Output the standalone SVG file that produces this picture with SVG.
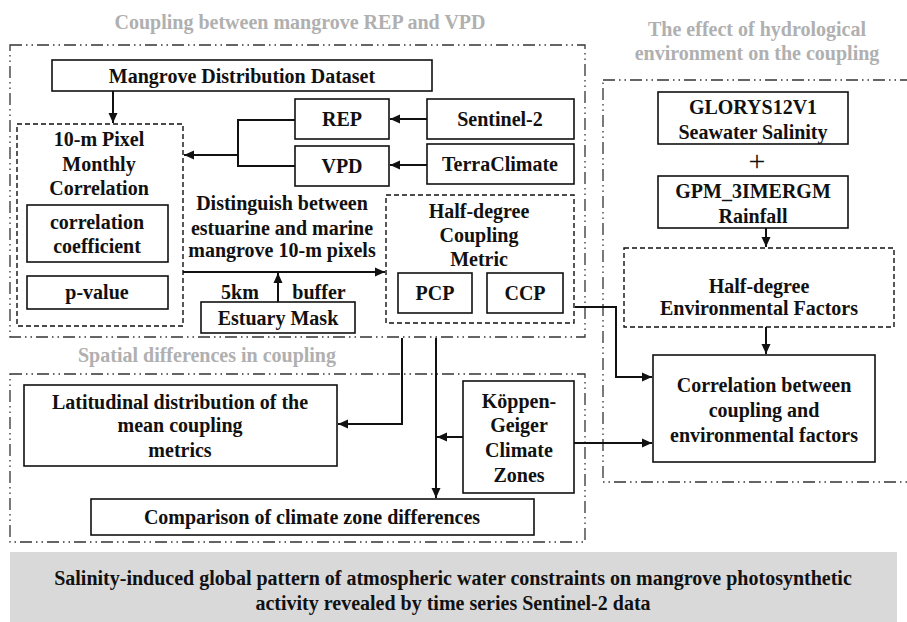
<svg xmlns="http://www.w3.org/2000/svg" width="907" height="622" viewBox="0 0 907 622">
<style>
text{font-family:"Liberation Serif","Times New Roman",serif;font-weight:bold;font-size:20px;text-anchor:middle;fill:#111}
.t{fill:#b0b0b0}
.b{fill:#fff;stroke:#111;stroke-width:1.6}
.d{fill:#fff;stroke:#111;stroke-width:1.4;stroke-dasharray:5 3}
.g{fill:none;stroke:#333;stroke-width:1.3;stroke-dasharray:12 4 1.5 4 1.5 4}
.c{fill:none;stroke:#111;stroke-width:2}
.a{marker-end:url(#ar)}
</style>
<defs>
<marker id="ar" markerUnits="userSpaceOnUse" markerWidth="12" markerHeight="10" refX="10" refY="5" orient="auto">
<path d="M0,0.5 L10,5 L0,9.5 Z" fill="#111"/>
</marker>
</defs>
<rect width="907" height="622" fill="#fff"/>

<g id="group-coupling">
<rect class="g" x="10" y="45" width="575" height="292"/>
<text class="t" x="300" y="29">Coupling between mangrove REP and VPD</text>
</g>
<g id="group-spatial">
<rect class="g" x="10" y="374" width="575" height="168"/>
<text class="t" x="207" y="362">Spatial differences in coupling</text>
</g>
<g id="group-hydro">
<rect class="g" x="603" y="80" width="310" height="402"/>
<text class="t" x="757" y="36">The effect of hydrological</text>
<text class="t" x="757" y="60">environment on the coupling</text>
</g>

<g id="connectors">
<path class="c a" d="M113,91 V123"/>
<path class="c a" d="M427,119 H390"/>
<path class="c a" d="M427,165 H390"/>
<path class="c" d="M295,120 H238 V166 H295"/>
<path class="c a" d="M238,155 H184"/>
<path class="c a" d="M183,272 H385"/>
<path class="c a" d="M278,302 V273"/>
<path class="c a" d="M575,307 H616 V377 H652"/>
<path class="c a" d="M402,338 V424 H338"/>
<path class="c a" d="M436,338 V498"/>
<path class="c a" d="M463,437 H437"/>
<path class="c a" d="M574,443 H652"/>
<path class="c a" d="M766,228 V247"/>
<path class="c a" d="M766,327 V354"/>
</g>

<g id="mangrove-dataset">
<rect class="b" x="52" y="60" width="380" height="31"/>
<text x="242" y="83">Mangrove Distribution Dataset</text>
</g>
<g id="rep">
<rect class="b" x="295" y="99" width="94" height="40"/>
<text x="342" y="126">REP</text>
</g>
<g id="vpd">
<rect class="b" x="295" y="146" width="94" height="40"/>
<text x="342" y="173">VPD</text>
</g>
<g id="sentinel2">
<rect class="b" x="427" y="99" width="147" height="40"/>
<text x="500" y="126">Sentinel-2</text>
</g>
<g id="terraclimate">
<rect class="b" x="427" y="144" width="147" height="40"/>
<text x="500" y="171">TerraClimate</text>
</g>
<g id="pixel-correlation">
<rect class="d" x="17" y="124" width="166" height="202"/>
<text x="99" y="146">10-m Pixel</text>
<text x="99" y="171">Monthly</text>
<text x="99" y="195">Correlation</text>
</g>
<g id="correlation-coefficient">
<rect class="b" x="27" y="205" width="141" height="57"/>
<text x="97" y="229">correlation</text>
<text x="97" y="253">coefficient</text>
</g>
<g id="p-value">
<rect class="b" x="27" y="276" width="141" height="33"/>
<text x="97" y="299">p-value</text>
</g>
<g id="distinguish-label">
<text x="282" y="210">Distinguish between</text>
<text x="282" y="235">estuarine and marine</text>
<text x="282" y="257">mangrove 10-m pixels</text>
<text x="240" y="299">5km</text>
<text x="319" y="299">buffer</text>
</g>
<g id="estuary-mask">
<rect class="b" x="201" y="302" width="154" height="31"/>
<text x="278" y="325">Estuary Mask</text>
</g>
<g id="coupling-metric">
<rect class="d" x="386" y="195" width="188" height="128"/>
<text x="479" y="218">Half-degree</text>
<text x="479" y="242">Coupling</text>
<text x="479" y="266">Metric</text>
</g>
<g id="pcp">
<rect class="b" x="398" y="273" width="74" height="40"/>
<text x="435" y="300">PCP</text>
</g>
<g id="ccp">
<rect class="b" x="487" y="273" width="76" height="40"/>
<text x="525" y="300">CCP</text>
</g>
<g id="glorys">
<rect class="b" x="658" y="92" width="190" height="52"/>
<text x="753" y="114">GLORYS12V1</text>
<text x="753" y="139">Seawater Salinity</text>
</g>
<g id="plus">
<text x="757" y="171" style="font-weight:normal;font-size:30px">+</text>
</g>
<g id="gpm">
<rect class="b" x="658" y="176" width="190" height="52"/>
<text x="753" y="198">GPM_3IMERGM</text>
<text x="753" y="223">Rainfall</text>
</g>
<g id="env-factors">
<rect class="d" x="624" y="248" width="270" height="79"/>
<text x="759" y="293">Half-degree</text>
<text x="759" y="315">Environmental Factors</text>
</g>
<g id="correlation-env">
<rect class="b" x="653" y="355" width="222" height="107"/>
<text x="764" y="392">Correlation  between</text>
<text x="764" y="417">coupling and</text>
<text x="764" y="442">environmental factors</text>
</g>
<g id="latitudinal">
<rect class="b" x="24" y="385" width="313" height="81"/>
<text x="180" y="409">Latitudinal distribution of the</text>
<text x="180" y="432">mean coupling</text>
<text x="180" y="457">metrics</text>
</g>
<g id="koppen">
<rect class="b" x="463" y="381" width="111" height="112"/>
<text x="519" y="408">Köppen-</text>
<text x="519" y="432">Geiger</text>
<text x="519" y="457">Climate</text>
<text x="519" y="482">Zones</text>
</g>
<g id="comparison">
<rect class="b" x="91" y="499" width="443" height="36"/>
<text x="312" y="524">Comparison of climate zone differences</text>
</g>
<g id="summary">
<rect x="10" y="552" width="887" height="70" fill="#d9d9d9"/>
<text x="453" y="585">Salinity-induced global pattern of atmospheric water constraints on mangrove photosynthetic</text>
<text x="453" y="610">activity revealed by time series Sentinel-2 data</text>
</g>
</svg>
